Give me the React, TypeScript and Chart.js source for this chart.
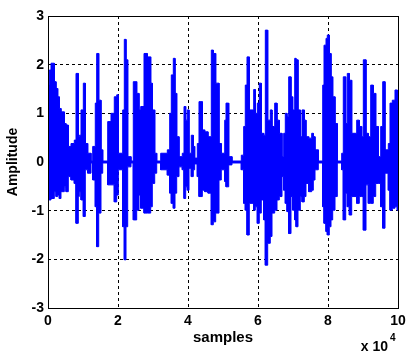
import React, { useEffect, useRef } from "react";
import { Chart, registerables } from "chart.js";

Chart.register(...registerables);

// Envelope of the waveform: each column holds from its sample position to the next one.
const sampleX = [0, 370, 860, 1800, 2290, 2770, 3230, 3710, 4660, 5140, 5800, 6570, 7510, 8000, 8660, 8940, 9430, 10090, 10660, 11340, 12290, 12770, 13510, 13910, 14490, 15140, 15630, 17060, 18000, 18940, 19630, 20090, 21340, 21800, 22290, 22770, 23710, 24370, 25340, 26000, 26490, 27430, 28370, 29340, 29800, 30490, 31060, 32200, 34090, 34770, 35230, 35800, 36290, 36770, 37430, 38370, 38860, 39340, 39800, 40290, 40940, 41510, 41910, 42660, 43140, 44090, 44770, 45710, 46660, 47230, 47910, 48860, 49510, 50490, 50860, 51630, 52570, 55230, 55910, 56370, 56860, 57510, 58770, 59230, 59800, 60370, 60940, 61630, 62090, 62770, 63510, 64000, 64770, 65430, 66090, 66860, 67340, 67800, 68290, 68770, 69430, 69910, 70490, 70860, 71430, 72090, 72570, 73230, 73710, 74490, 75340, 75800, 76290, 77230, 78490, 78860, 79430, 79800, 80370, 80860, 81340, 82000, 82660, 83910, 84370, 85060, 85510, 86090, 86770, 88200, 88940, 89630, 90090, 90860, 91510, 92200, 92940, 93630, 94370, 95060, 95630, 96290, 97230, 97710, 98370, 99140, 99800, 100000];

const envMax = [1.58, 1.89, 2.03, 1.65, 1.51, 1.34, 1.10, 1.03, 0.79, 0.76, 0.32, 0.38, 0.45, 1.82, 0.52, 0.55, 1.07, 1.62, 0.38, 0.18, 0.02, 0.32, 1.21, 2.23, 1.27, 0.25, 0.02, 0.83, 1.00, 1.34, 1.38, 0.18, 1.07, 2.52, 2.10, 0.11, 0.02, 1.65, 1.41, 1.07, 1.14, 2.23, 2.16, 1.62, 1.07, 0.18, 0.02, 0.18, 0.25, 1.00, 1.79, 2.13, 1.41, 0.52, 0.11, 0.18, 1.14, 0.86, 1.07, 0.18, 0.55, 0.32, 0.08, 0.38, 1.24, 0.66, 0.62, 0.52, 2.30, 2.23, 1.62, 0.38, 0.18, 0.86, 1.21, 0.11, 0.02, 0.14, 0.73, 1.58, 2.16, 1.07, 1.49, 1.00, 1.21, 1.62, 0.59, 0.55, 2.71, 0.86, 1.07, 0.73, 1.21, 0.86, 0.59, 0.11, 0.59, 1.00, 0.93, 1.75, 1.34, 1.07, 2.13, 2.10, 1.07, 0.52, 1.07, 0.86, 0.52, 0.49, 0.59, 0.52, 0.25, 0.02, 1.58, 2.40, 2.54, 2.61, 2.23, 1.75, 1.34, 0.79, 0.02, 0.18, 1.75, 0.79, 1.82, 1.68, 0.59, 0.86, 0.73, 0.52, 2.10, 0.59, 0.52, 1.58, 1.41, 0.73, 0.11, 0.73, 1.65, 0.25, 0.38, 1.21, 1.27, 1.48, 1.07, 1.07];

const envMin = [-0.78, -0.78, -0.75, -0.61, -0.71, -0.68, -0.75, -0.61, -0.51, -0.61, -0.30, -0.37, -0.44, -1.26, -0.71, -0.61, -0.78, -1.12, -0.16, -0.23, -0.02, -0.37, -0.92, -1.74, -1.05, -0.23, -0.02, -0.47, -0.47, -0.82, -0.68, -0.16, -1.33, -2.01, -1.33, -0.10, -0.02, -1.19, -0.99, -0.68, -0.95, -1.05, -1.05, -0.92, -0.44, -0.23, -0.02, -0.16, -0.27, -0.64, -0.85, -0.95, -0.64, -0.30, -0.10, -0.16, -0.75, -0.51, -0.58, -0.13, -0.30, -0.16, -0.04, -0.30, -0.71, -0.58, -0.61, -0.64, -1.29, -1.23, -1.05, -0.37, -0.16, -0.40, -0.51, -0.06, -0.02, -0.16, -0.85, -0.99, -1.50, -0.85, -0.99, -0.92, -1.26, -1.05, -0.78, -1.19, -2.12, -1.67, -1.53, -1.05, -0.99, -0.78, -0.71, -0.30, -0.58, -0.85, -1.02, -1.47, -0.71, -0.99, -1.19, -1.33, -0.99, -0.71, -0.82, -0.71, -0.44, -0.61, -0.58, -0.37, -0.16, -0.02, -0.92, -1.26, -1.43, -1.50, -1.33, -1.19, -0.99, -0.71, -0.02, -0.16, -1.19, -0.64, -0.92, -1.09, -0.71, -0.85, -0.71, -0.71, -1.40, -0.47, -0.85, -0.85, -0.71, -0.44, -0.44, -0.92, -1.36, -0.23, -0.58, -0.99, -0.95, -0.92, -0.99, -0.99];

const xTicks = [0, 20000, 40000, 60000, 80000, 100000];
const yTicks = [-3, -2, -1, 0, 1, 2, 3];
const xLabel = "samples";
const yLabel = "Amplitude";
const xScaleText = "x 10";
const xExponent = "4";

const FONT = "'Liberation Sans', Arial, Helvetica, sans-serif";
const BLUE = "#0000ff";

// Each column of the envelope becomes a flat step from its own x to the next x.
function columns(values: number[]) {
  const pts: { x: number; y: number }[] = [];
  for (let i = 0; i < sampleX.length - 1; i++) {
    pts.push({ x: sampleX[i], y: values[i] });
    pts.push({ x: sampleX[i + 1], y: values[i] });
  }
  return pts;
}

export default function App() {
  const ref = useRef<HTMLCanvasElement>(null);

  useEffect(() => {
    document.body.style.margin = "0";
    const canvas = ref.current;
    if (!canvas) return;

    const framePlugin = {
      id: "matlabFrame",
      afterDraw(chart: any) {
        const { ctx, chartArea: a } = chart;
        ctx.save();
        ctx.strokeStyle = "#000";
        ctx.lineWidth = 1;
        ctx.setLineDash([]);
        ctx.strokeRect(
          Math.round(a.left) + 0.5,
          Math.round(a.top) + 0.5,
          Math.round(a.right - a.left),
          Math.round(a.bottom - a.top)
        );
        ctx.fillStyle = "#000";
        ctx.font = `bold 14px ${FONT}`;
        ctx.textAlign = "right";
        ctx.textBaseline = "middle";
        ctx.fillText(xScaleText, a.right - 10, a.bottom + 39);
        ctx.font = `bold 10px ${FONT}`;
        ctx.textAlign = "left";
        ctx.fillText(xExponent, a.right - 8, a.bottom + 30);
        ctx.restore();
      },
    };

    const gridColor = (edgeA: number, edgeB: number) => (c: any) =>
      c.tick && (c.tick.value === edgeA || c.tick.value === edgeB) ? "rgba(0,0,0,0)" : "#000";

    const chart = new Chart(canvas, {
      type: "line",
      data: {
        datasets: [
          {
            data: columns(envMax),
            borderColor: BLUE,
            backgroundColor: BLUE,
            borderWidth: 1,
            pointRadius: 0,
            tension: 0,
            fill: "origin",
          },
          {
            data: columns(envMin),
            borderColor: BLUE,
            backgroundColor: BLUE,
            borderWidth: 1,
            pointRadius: 0,
            tension: 0,
            fill: "origin",
          },
        ],
      },
      options: {
        animation: false,
        responsive: false,
        devicePixelRatio: 1,
        layout: { padding: { top: 16, right: 13, bottom: 0, left: 0 } },
        plugins: {
          legend: { display: false },
          tooltip: { enabled: false },
          filler: { propagate: false },
        },
        scales: {
          x: {
            type: "linear",
            min: 0,
            max: 100000,
            afterBuildTicks: (s: any) => {
              s.ticks = xTicks.map((v) => ({ value: v }));
            },
            afterFit: (s: any) => {
              s.height = 49;
            },
            ticks: {
              callback: (v: any) => String(Number(v) / 10000),
              color: "#000",
              font: { family: FONT, size: 14, weight: "bold" },
              padding: 5,
              maxRotation: 0,
              autoSkip: false,
            },
            grid: {
              color: gridColor(0, 100000),
              lineWidth: 1,
              drawTicks: false,
              tickLength: 0,
            },
            border: { display: false, dash: [3, 3] },
            title: {
              display: true,
              text: xLabel,
              color: "#000",
              font: { family: FONT, size: 15, weight: "bold" },
              padding: { top: 0, bottom: 10 },
            },
          },
          y: {
            type: "linear",
            min: -3,
            max: 3,
            afterBuildTicks: (s: any) => {
              s.ticks = yTicks.map((v) => ({ value: v }));
            },
            afterFit: (s: any) => {
              s.width = 48;
            },
            ticks: {
              callback: (v: any) => String(v),
              color: "#000",
              font: { family: FONT, size: 14, weight: "bold" },
              padding: 4,
              autoSkip: false,
            },
            grid: {
              color: gridColor(-3, 3),
              lineWidth: 1,
              drawTicks: false,
              tickLength: 0,
            },
            border: { display: false, dash: [3, 3] },
            title: {
              display: true,
              text: yLabel,
              color: "#000",
              font: { family: FONT, size: 14, weight: "bold" },
              padding: { top: 5, bottom: 0 },
            },
          },
        },
      },
      plugins: [framePlugin],
    } as any);

    return () => chart.destroy();
  }, []);

  return (
    <div style={{ width: 411, height: 357, position: "relative", background: "#fff" }}>
      <canvas ref={ref} width={411} height={357} />
    </div>
  );
}
